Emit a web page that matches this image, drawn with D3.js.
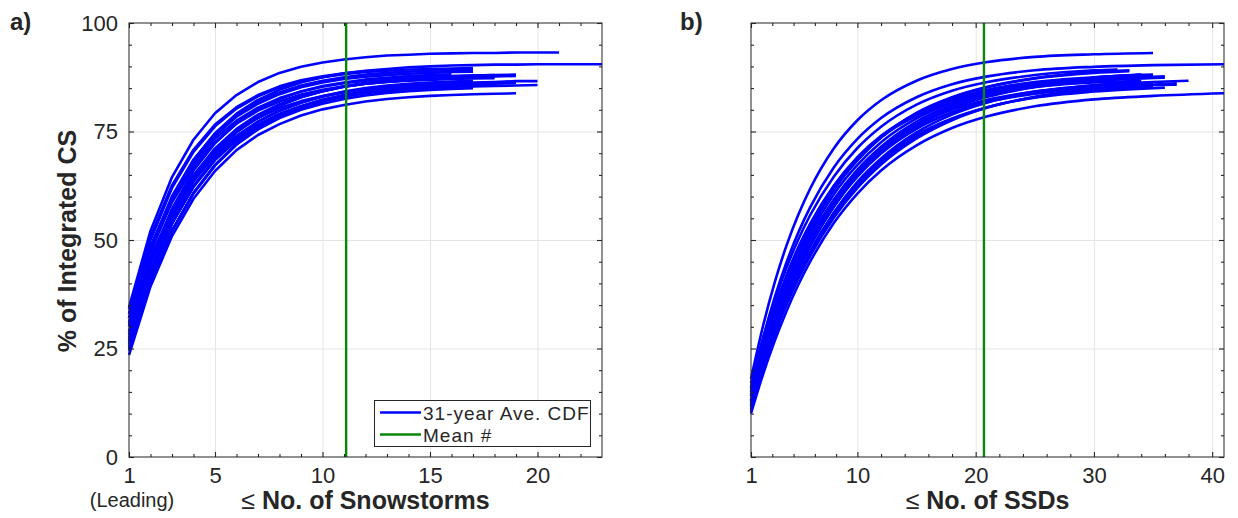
<!DOCTYPE html>
<html><head><meta charset="utf-8">
<script src="https://cdn.jsdelivr.net/npm/d3@7"></script>
<style>
body{margin:0;background:#fff}
svg{display:block}
text{font-family:"Liberation Sans",Arial,Helvetica,sans-serif;fill:#262626}
</style>
</head><body>
<svg id="chart" width="1238" height="518"></svg>
<script>
// ---------- data ----------
const yTickVals = [0, 25, 50, 75, 100];
const yMinorVals = [5,10,15,20,30,35,40,45,55,60,65,70,80,85,90,95];
const stormTickVals = [1, 5, 10, 15, 20];
const stormMinorVals = [2,3,4,6,7,8,9,11,12,13,14,16,17,18,19,21,22];
const ssdTickVals = [1, 10, 20, 30, 40];
const ssdMinorVals = [2.8,4.6,6.4,8.2,12,14,16,18,22,24,26,28,32,34,36,38];
const stormDomain = [1, 23];
const ssdDomain = [1, 41];
const meanStorms = 11.1;
const meanSSDs = 20.7;

// Panel a: % of integrated CS vs number of leading snowstorms (n = 1, 2, 3, ...)
const stormCDFs = [
  [34.5,52.1,64.5,73.1,79.2,83.4,86.4,88.5,89.9,90.9,91.6,92.1,92.5,92.7,92.9,93.0,93.1,93.1,93.2,93.2,93.2],
  [31.0,47.7,59.7,68.4,74.6,79.1,82.3,84.6,86.3,87.5,88.4,89.0,89.4,89.8,90.0,90.2,90.3,90.4,90.4,90.5,90.5,90.5,90.5],
  [33.0,50.0,62.0,70.3,76.2,80.3,83.1,85.1,86.5,87.5,88.2,88.7,89.0,89.3,89.4,89.5,89.6],
  [34.0,50.8,62.6,70.8,76.6,80.6,83.4,85.4,86.8,87.7,88.4,88.9,89.2],
  [28.0,45.0,57.2,66.0,72.3,76.9,80.2,82.5,84.2,85.5,86.3,87.0,87.4,87.8,88.0,88.2],
  [27.0,43.0,54.8,63.5,70.0,74.8,78.3,80.9,82.9,84.3,85.4,86.2,86.7,87.2,87.5,87.7,87.9,88.0,88.1],
  [29.0,44.9,56.5,64.9,71.1,75.6,78.9,81.3,83.1,84.3,85.3,86.0,86.5,86.8,87.1,87.3,87.4,87.5],
  [26.0,41.9,53.7,62.4,68.9,73.6,77.2,79.8,81.7,83.1,84.2,85.0,85.6,86.0,86.3,86.5,86.7],
  [25.0,40.5,52.1,60.8,67.3,72.2,75.9,78.6,80.7,82.3,83.4,84.3,84.9,85.4,85.8,86.1,86.3,86.4,86.6,86.6],
  [27.5,42.7,53.9,62.2,68.4,72.9,76.3,78.8,80.6,82.0,83.0,83.8,84.3,84.7,85.0,85.3,85.4,85.5,85.6,85.7],
  [24.5,40.4,52.1,60.8,67.2,72.0,75.5,78.1,80.0,81.4,82.5,83.3,83.9,84.3,84.6,84.8,85.0],
  [23.5,39.3,50.9,59.5,65.9,70.7,74.2,76.7,78.7,80.1,81.1,81.9,82.5,82.9,83.2,83.4,83.6,83.7,83.8],
  [31.0,46.0,56.9,64.9,70.7,75.0,78.1,80.4,82.0,83.2,84.1,84.8,85.2,85.6,85.8,86.0,86.1],
  [32.0,47.5,58.7,66.8,72.6,76.8,79.8,81.9,83.5,84.6,85.4,86.0,86.4,86.7,86.9,87.1,87.2,87.3],
  [30.0,47.1,59.3,67.9,74.0,78.4,81.4,83.6,85.2,86.3,87.1,87.6,88.0,88.3,88.5,88.7,88.8],
  [28.5,44.3,55.9,64.4,70.6,75.2,78.6,81.1,82.9,84.3,85.3,86.0,86.5,86.9,87.2,87.4,87.6,87.7,87.8],
  [26.5,42.3,53.9,62.4,68.6,73.2,76.6,79.1,80.9,82.3,83.3,84.0,84.5,84.9,85.2,85.4,85.6,85.7],
  [30.5,44.9,55.6,63.6,69.6,74.0,77.3,79.8,81.6,83.0,84.0,84.8,85.3,85.8,86.1,86.3,86.5],
  [32.0,48.4,60.1,68.5,74.5,78.8,81.8,84.0,85.6,86.7,87.5,88.1,88.5,88.8,89.0,89.1,89.2],
  [25.5,40.8,52.2,60.8,67.2,72.0,75.6,78.4,80.4,81.9,83.1,83.9,84.6,85.1,85.4,85.7,85.9,86.0,86.2],
  [33.0,48.5,59.6,67.6,73.4,77.5,80.5,82.7,84.2,85.3,86.1,86.7,87.1,87.4,87.6,87.8,87.9,88.0]
];

// Panel b: % of integrated CS vs number of snowstorm days, sampled at ssdN then each curve's tail
const ssdN = [1,2,3,4,5,6,8,10,12,15,18,21,25,30];
const ssdTailN = [[35],[35,41],[33],[32],[34],[34],[35],[33],[35,38],[35,37],[36],[35,41],[35],[36],[34],
                  [36],[35],[34],[33],[37],[35]];
const ssdCDFs = [
  [18.0,30.0,40.2,48.7,55.8,61.8,71.1,77.6,82.2,86.7,89.4,91.0,92.2,92.8, 93.1],
  [16.0,27.2,36.7,44.8,51.7,57.5,66.7,73.3,78.1,82.9,85.9,87.7,89.1,89.9, 90.3,90.5],
  [15.0,24.7,33.2,40.5,47.0,52.5,61.6,68.4,73.6,79.2,82.8,85.2,87.2,88.5, 88.9],
  [17.0,27.2,36.0,43.6,50.1,55.7,64.6,71.2,76.1,81.2,84.4,86.4,88.0,89.1, 89.3],
  [14.0,23.7,32.1,39.5,45.9,51.4,60.5,67.3,72.5,78.0,81.6,84.0,86.0,87.3, 87.9],
  [12.0,21.3,29.4,36.6,42.9,48.5,57.6,64.8,70.3,76.3,80.4,83.2,85.6,87.3, 88.1],
  [13.0,22.4,30.6,37.8,44.1,49.6,58.7,65.6,70.9,76.6,80.4,83.0,85.2,86.6, 87.4],
  [11.0,20.2,28.3,35.4,41.7,47.2,56.3,63.4,68.8,74.8,78.9,81.7,84.0,85.7, 86.3],
  [12.0,21.4,29.6,36.8,43.1,48.6,57.7,64.6,69.9,75.6,79.4,82.0,84.2,85.6, 86.4,86.7],
  [13.0,22.5,30.8,38.0,44.3,49.8,58.6,65.4,70.5,75.9,79.4,81.8,83.7,85.0, 85.7,85.8],
  [10.5,19.9,28.2,35.4,41.7,47.2,56.2,63.2,68.5,74.2,78.0,80.6,82.8,84.2, 85.1],
  [10.0,18.9,26.7,33.6,39.7,45.0,53.9,60.7,66.0,71.8,75.8,78.5,80.8,82.4, 83.2,83.8],
  [14.0,23.5,31.7,38.9,45.1,50.5,59.3,66.0,71.1,76.4,80.0,82.3,84.2,85.5, 86.2],
  [15.0,25.2,34.0,41.5,48.0,53.6,62.5,69.1,74.0,79.0,82.2,84.2,85.9,86.9, 87.4],
  [13.0,22.5,30.8,38.1,44.5,50.0,59.2,66.2,71.5,77.3,81.1,83.7,85.9,87.4, 88.1],
  [12.5,22.0,30.3,37.6,43.9,49.5,58.6,65.6,70.9,76.7,80.6,83.2,85.3,86.8, 87.7],
  [11.5,20.5,28.4,35.4,41.5,46.9,55.8,62.7,68.0,73.9,77.9,80.6,82.9,84.6, 85.4],
  [16.0,26.0,34.5,41.9,48.3,53.7,62.4,68.9,73.7,78.6,81.7,83.7,85.3,86.3, 86.7],
  [14.5,24.3,32.9,40.3,46.7,52.4,61.5,68.4,73.7,79.3,82.9,85.3,87.3,88.7, 89.1],
  [12.0,20.6,28.3,35.0,41.0,46.3,55.1,62.0,67.4,73.4,77.6,80.5,83.0,84.8, 86.1],
  [15.5,25.4,33.9,41.3,47.7,53.2,62.1,68.8,73.8,79.0,82.4,84.6,86.4,87.5, 88.1]
];

const legendLabels = ["31-year Ave. CDF", "Mean #"];

// ---------- drawing ----------
const svg = d3.select("#chart");
const plotTop = 23, plotBottom = 457;
const H = plotBottom - plotTop;
const blue = "#0000ff", green = "#0a860a", axisCol = "#262626", gridCol = "#e4e4e4";

const y = d3.scaleLinear().domain([0, 100]).range([plotBottom, plotTop]);

function panel(opts) {
  const x = d3.scaleLinear().domain(opts.domain).range([opts.x0, opts.x1]);
  const W = opts.x1 - opts.x0;
  const g = svg.append("g");

  const gx = g.append("g").attr("transform", `translate(0,${plotBottom})`)
    .call(d3.axisBottom(x).tickValues(opts.ticks.filter(v => v > opts.domain[0] && v < opts.domain[1])).tickSize(-H).tickFormat(""));
  gx.select(".domain").remove();
  gx.selectAll("line").attr("stroke", gridCol).attr("stroke-width", 1);
  const gy = g.append("g").attr("transform", `translate(${opts.x0},0)`)
    .call(d3.axisLeft(y).tickValues(yTickVals.filter(v => v > 0 && v < 100)).tickSize(-W).tickFormat(""));
  gy.select(".domain").remove();
  gy.selectAll("line").attr("stroke", gridCol).attr("stroke-width", 1);

  const line = d3.line().x(d => x(d[0])).y(d => y(d[1])).curve(opts.curve);
  g.append("g").selectAll("path").data(opts.series).join("path")
    .attr("d", line).attr("fill", "none").attr("stroke", blue)
    .attr("stroke-width", 2.6).attr("stroke-linejoin", "round");

  g.append("line").attr("x1", x(opts.mean)).attr("x2", x(opts.mean))
    .attr("y1", y(0)).attr("y2", y(100)).attr("stroke", green).attr("stroke-width", 2.4);

  g.append("rect").attr("x", opts.x0).attr("y", plotTop).attr("width", W).attr("height", H)
    .attr("fill", "none").attr("stroke", axisCol).attr("stroke-width", 1.2).attr("stroke-opacity", 0.85);

  const styleAxis = (sel) => {
    sel.select(".domain").remove();
    sel.selectAll("line").attr("stroke", axisCol).attr("stroke-width", 1.1);
    sel.selectAll("text").attr("font-size", 22).attr("fill", "#262626")
      .style("font-family", '"Liberation Sans", Arial, sans-serif');
  };
  g.append("g").attr("transform", `translate(0,${plotBottom})`)
    .call(d3.axisBottom(x).tickValues(opts.ticks).tickSize(-5).tickPadding(10).tickFormat(d3.format("d"))).call(styleAxis);
  g.append("g").attr("transform", `translate(0,${plotBottom})`)
    .call(d3.axisBottom(x).tickValues(opts.minor).tickSize(-3).tickFormat("")).call(styleAxis);
  g.append("g").attr("transform", `translate(0,${plotTop})`)
    .call(d3.axisTop(x).tickValues(opts.ticks).tickSize(-5).tickFormat("")).call(styleAxis);
  g.append("g").attr("transform", `translate(0,${plotTop})`)
    .call(d3.axisTop(x).tickValues(opts.minor).tickSize(-3).tickFormat("")).call(styleAxis);
  g.append("g").attr("transform", `translate(${opts.x0},0)`)
    .call(d3.axisLeft(y).tickValues(yTickVals).tickSize(-5).tickPadding(11).tickFormat(opts.yLabels ? d3.format("d") : "")).call(styleAxis);
  g.append("g").attr("transform", `translate(${opts.x0},0)`)
    .call(d3.axisLeft(y).tickValues(yMinorVals).tickSize(-3).tickFormat("")).call(styleAxis);
  g.append("g").attr("transform", `translate(${opts.x1},0)`)
    .call(d3.axisRight(y).tickValues(yTickVals).tickSize(-5).tickFormat("")).call(styleAxis);
  g.append("g").attr("transform", `translate(${opts.x1},0)`)
    .call(d3.axisRight(y).tickValues(yMinorVals).tickSize(-3).tickFormat("")).call(styleAxis);

  const t = g.append("text").attr("x", (opts.x0 + opts.x1) / 2).attr("y", 509)
    .attr("text-anchor", "middle").attr("font-size", 25).attr("font-weight", "bold");
  t.append("tspan").attr("font-weight", "normal").text("≤ ");
  t.append("tspan").text(opts.title);

  g.append("text").attr("x", opts.letterX).attr("y", 30).attr("font-size", 24)
    .attr("font-weight", "bold").attr("fill", "#000").text(opts.letter);
  return {g, x};
}

panel({
  x0: 129, x1: 602, domain: stormDomain, ticks: stormTickVals, minor: stormMinorVals,
  series: stormCDFs.map(arr => arr.map((v, i) => [i + 1, v])),
  curve: d3.curveLinear, mean: meanStorms, yLabels: true,
  title: "No. of Snowstorms", letter: "a)", letterX: 10
});
panel({
  x0: 751, x1: 1224, domain: ssdDomain, ticks: ssdTickVals, minor: ssdMinorVals,
  series: ssdCDFs.map((arr, k) => ssdN.concat(ssdTailN[k]).map((n, i) => [n, arr[i]])),
  curve: d3.curveMonotoneX, mean: meanSSDs, yLabels: false,
  title: "No. of SSDs", letter: "b)", letterX: 680
});

svg.append("text").attr("x", 132).attr("y", 507).attr("text-anchor", "middle")
  .attr("font-size", 20).text("(Leading)");

svg.append("text").attr("transform", "translate(76,241) rotate(-90)")
  .attr("text-anchor", "middle").attr("font-size", 25).attr("font-weight", "bold")
  .text("% of Integrated CS");

const lg = svg.append("g");
lg.append("rect").attr("x", 374.5).attr("y", 400.5).attr("width", 216).attr("height", 46)
  .attr("fill", "#fff").attr("stroke", axisCol).attr("stroke-width", 1);
[blue, green].forEach((c, i) => {
  const yy = 412.5 + i * 22;
  lg.append("line").attr("x1", 380).attr("x2", 421).attr("y1", yy).attr("y2", yy)
    .attr("stroke", c).attr("stroke-width", 2.4);
  lg.append("text").attr("x", 423).attr("y", yy + 7).attr("font-size", 19)
    .attr("letter-spacing", 1.0).text(legendLabels[i]);
});
</script>
</body></html>
